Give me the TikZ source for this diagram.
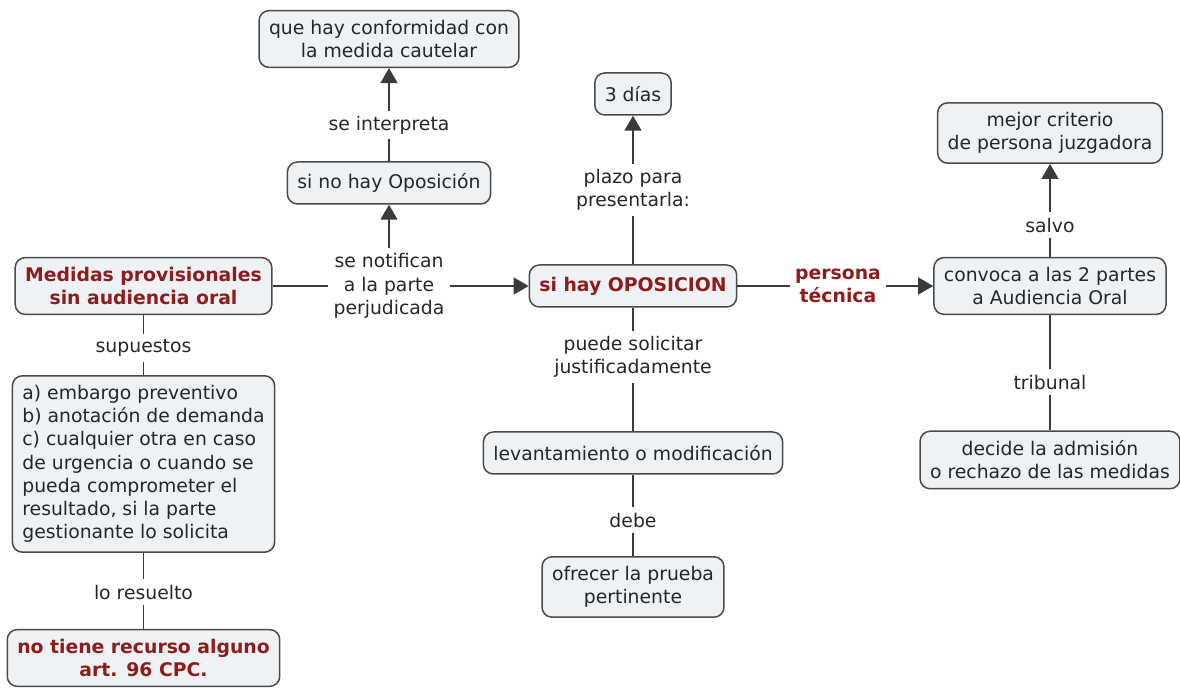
\documentclass[tikz,border=0pt]{standalone}
\usepackage{fontspec}
\setmainfont{DejaVu Sans}
\usetikzlibrary{arrows.meta}
\definecolor{cajafondo}{HTML}{EEF2F5}
\definecolor{cajaborde}{HTML}{4A4A4A}
\definecolor{gristrazo}{HTML}{3A3A3A}
\definecolor{rojo}{HTML}{8E1C1C}

\begin{document}
\begin{tikzpicture}[
  concepto/.style={draw=cajaborde, line width=0.03cm, fill=cajafondo, rounded corners=0.2cm,
    align=center, inner xsep=0.2cm, inner ysep=0.19cm, minimum height=0.84cm,
    text=black!85, font=\fontsize{10.7}{13.2}\selectfont},
  destacado/.style={concepto, text=rojo, font=\fontsize{10.7}{13.2}\selectfont\bfseries},
  enlace/.style={align=center, inner sep=0.1cm, text=black!85, font=\fontsize{10.7}{13.2}\selectfont},
  enlacerojo/.style={enlace, text=rojo, font=\fontsize{10.7}{13.2}\selectfont\bfseries},
  conector/.style={draw=gristrazo, line width=0.03cm},
  flecha/.style={conector, -{Triangle[length=0.3cm, width=0.34cm]}}
]
\useasboundingbox (0,0) rectangle (23.6,-13.78);

% columna izquierda
\node[destacado] (medidas) at (2.87,-5.72) {Medidas provisionales\\sin audiencia oral};
\node[enlace] (supuestos) at (2.87,-6.96) {supuestos};
\node[concepto, align=left] (casos) at (2.87,-9.28) {a) embargo preventivo\\b) anotación de demanda\\c) cualquier otra en caso\\de urgencia o cuando se\\pueda comprometer el\\resultado, si la parte\\gestionante lo solicita};
\node[enlace] (resuelto) at (2.87,-11.84) {lo resuelto};
\node[destacado] (recurso) at (2.87,-13.16) {no tiene recurso alguno\\art. 96 CPC.};

% notificacion
\node[enlace] (notifican) at (7.78,-5.72) {se notifican\\a la parte\\perjudicada};
\node[concepto] (nooposic) at (7.78,-3.66) {si no hay Oposición};
\node[enlace] (interpreta) at (7.78,-2.5) {se interpreta};
\node[concepto] (conforme) at (7.78,-0.78) {que hay conformidad con\\la medida cautelar};

% oposicion
\node[destacado] (oposicion) at (12.66,-5.72) {si hay OPOSICION};
\node[enlace] (plazo) at (12.66,-3.8) {plazo para\\presentarla:};
\node[concepto] (tresdias) at (12.66,-1.88) {3 días};
\node[enlace] (puede) at (12.66,-7.14) {puede solicitar\\justificadamente};
\node[concepto] (levanta) at (12.66,-9.06) {levantamiento o modificación};
\node[enlace] (debe) at (12.66,-10.4) {debe};
\node[concepto] (prueba) at (12.66,-11.74) {ofrecer la prueba\\pertinente};

% audiencia
\node[enlacerojo] (tecnica) at (16.76,-5.72) {persona\\técnica};
\node[concepto] (convoca) at (21.0,-5.72) {convoca a las 2 partes\\a Audiencia Oral};
\node[enlace] (salvo) at (21.0,-4.5) {salvo};
\node[concepto] (criterio) at (21.0,-2.66) {mejor criterio\\de persona juzgadora};
\node[enlace] (tribunal) at (21.0,-7.64) {tribunal};
\node[concepto] (decide) at (21.0,-9.2) {decide la admisión\\o rechazo de las medidas};

\draw[conector] (medidas) -- (supuestos);
\draw[conector] (supuestos) -- (casos);
\draw[conector] (casos) -- (resuelto);
\draw[conector] (resuelto) -- (recurso);
\draw[conector] (medidas) -- (notifican);
\draw[flecha] (notifican) -- (oposicion);
\draw[flecha] (notifican) -- (nooposic);
\draw[conector] (nooposic) -- (interpreta);
\draw[flecha] (interpreta) -- (conforme);
\draw[conector] (oposicion) -- (plazo);
\draw[flecha] (plazo) -- (tresdias);
\draw[conector] (oposicion) -- (puede);
\draw[conector] (puede) -- (levanta);
\draw[conector] (levanta) -- (debe);
\draw[conector] (debe) -- (prueba);
\draw[conector] (oposicion) -- (tecnica);
\draw[flecha] (tecnica) -- (convoca);
\draw[conector] (convoca) -- (salvo);
\draw[flecha] (salvo) -- (criterio);
\draw[conector] (convoca) -- (tribunal);
\draw[conector] (tribunal) -- (decide);
\end{tikzpicture}
\end{document}
